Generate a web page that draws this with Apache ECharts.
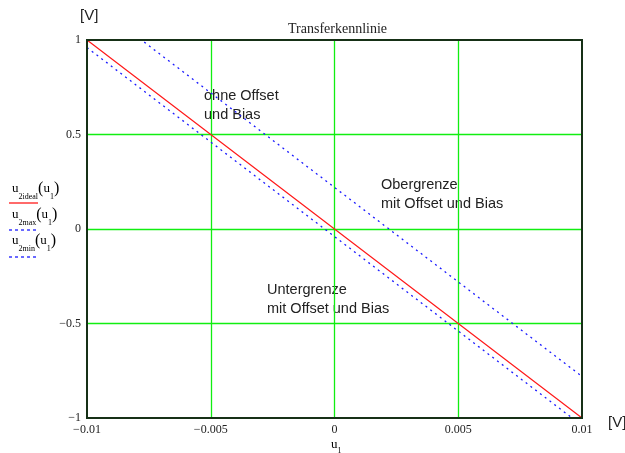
<!DOCTYPE html>
<html><head><meta charset="utf-8">
<script src="https://cdn.jsdelivr.net/npm/echarts@6/dist/echarts.min.js"></script>
<style>html,body{margin:0;padding:0;background:#fff}#c{width:625px;height:453px}</style>
</head><body><div id="c"></div>
<script>
var u1 = [-0.01, -0.005, 0, 0.005, 0.01];
var u2ideal = [1, 0.5, 0, -0.5, -1];
var u2max = [1.22, 0.72, 0.22, -0.28, -0.78];
var u2min = [0.96, 0.46, -0.04, -0.54, -1.04];
var xTickLabels = ['\u22120.01', '\u22120.005', '0', '0.005', '0.01'];
var yTickLabels = ['\u22121', '\u22120.5', '0', '0.5', '1'];
var titleText = 'Transferkennlinie';

function pairs(xs, ys){ return xs.map(function(x,i){return [x, ys[i]];}); }
var serif = '"Liberation Serif", "DejaVu Serif", serif';
var sans = '"Liberation Sans", Arial, sans-serif';

var chart = echarts.init(document.getElementById('c'), null, {renderer:'canvas'});
var sub = {fontSize: 8, fontFamily: serif, color:'#222', verticalAlign:'bottom', padding:[0,0,-4,0]};
var base = {fontSize: 13, fontFamily: serif, color:'#222'};
var par = {fontSize: 16, fontFamily: serif, color:'#222'};
chart.setOption({
  animation: false,
  backgroundColor: '#fff',
  title: {text: titleText, left: 283, top: 17, textStyle:{fontFamily: serif, fontSize: 14, fontWeight:'normal', color:'#222'}},
  grid: {left: 87, right: 43, top: 40, bottom: 35, show: true, borderColor:'#163016', borderWidth: 2, backgroundColor:'transparent'},
  xAxis: {type:'value', min:-0.01, max:0.01, interval:0.005,
    axisLine:{show:false}, axisTick:{show:false},
    splitLine:{show:true, showMinLine:false, showMaxLine:false, lineStyle:{color:'#11ee11', width:1.3}},
    axisLabel:{margin:6, fontFamily: serif, fontSize: 12, color:'#222',
      formatter:function(v){return xTickLabels[Math.round((v+0.01)/0.005)];}}},
  yAxis: {type:'value', min:-1, max:1, interval:0.5,
    axisLine:{show:false}, axisTick:{show:false},
    splitLine:{show:true, showMinLine:false, showMaxLine:false, lineStyle:{color:'#11ee11', width:1.3}},
    axisLabel:{margin:6, fontFamily: serif, fontSize: 12, color:'#222',
      formatter:function(v){return yTickLabels[Math.round((v+1)/0.5)];}}},
  series: [
    {type:'line', name:'u2max', data: pairs(u1, u2max), showSymbol:false, clip:true,
      lineStyle:{color:'#1a1aff', width:1.3, type:[2,4]}},
    {type:'line', name:'u2min', data: pairs(u1, u2min), showSymbol:false, clip:true,
      lineStyle:{color:'#1a1aff', width:1.3, type:[2,4]}},
    {type:'line', name:'u2ideal', data: pairs(u1, u2ideal), showSymbol:false, clip:true,
      lineStyle:{color:'#ff1a1a', width:1.2}}
  ],
  graphic: [
    {type:'rect', z:100, shape:{x:87, y:40, width:495, height:378}, style:{fill:'none', stroke:'#163016', lineWidth:2}},
    {type:'text', left: 80, top: 8, style:{text:'[V]', font:'15px '+sans, fill:'#222'}},
    {type:'text', left: 608, top: 415, style:{text:'[V]', font:'15px '+sans, fill:'#222'}},
    {type:'text', left: 331, top: 438, style:{rich:{b:base, s:sub}, text:'{b|u}{s|1}'}},
    {type:'text', left: 12, top: 181, style:{rich:{b:base, s:sub, p:par}, text:'{b|u}{s|2ideal}{p|(}{b|u}{s|1}{p|)}'}},
    {type:'line', shape:{x1:9, y1:203, x2:38, y2:203}, style:{stroke:'#ff1a1a', lineWidth:1.3}},
    {type:'text', left: 12, top: 207, style:{rich:{b:base, s:sub, p:par}, text:'{b|u}{s|2max}{p|(}{b|u}{s|1}{p|)}'}},
    {type:'line', shape:{x1:9, y1:230, x2:38, y2:230}, style:{stroke:'#1a1aff', lineWidth:1.3, lineDash:[3,3]}},
    {type:'text', left: 12, top: 233, style:{rich:{b:base, s:sub, p:par}, text:'{b|u}{s|2min}{p|(}{b|u}{s|1}{p|)}'}},
    {type:'line', shape:{x1:9, y1:257, x2:38, y2:257}, style:{stroke:'#1a1aff', lineWidth:1.3, lineDash:[3,3]}},
    {type:'text', left: 204, top: 86, style:{text:'ohne Offset\nund Bias', font:'14.5px '+sans, fill:'#222', lineHeight:19}},
    {type:'text', left: 381, top: 175, style:{text:'Obergrenze\nmit Offset und Bias', font:'14.5px '+sans, fill:'#222', lineHeight:19}},
    {type:'text', left: 267, top: 280, style:{text:'Untergrenze\nmit Offset und Bias', font:'14.5px '+sans, fill:'#222', lineHeight:19}}
  ]
});
</script></body></html>
